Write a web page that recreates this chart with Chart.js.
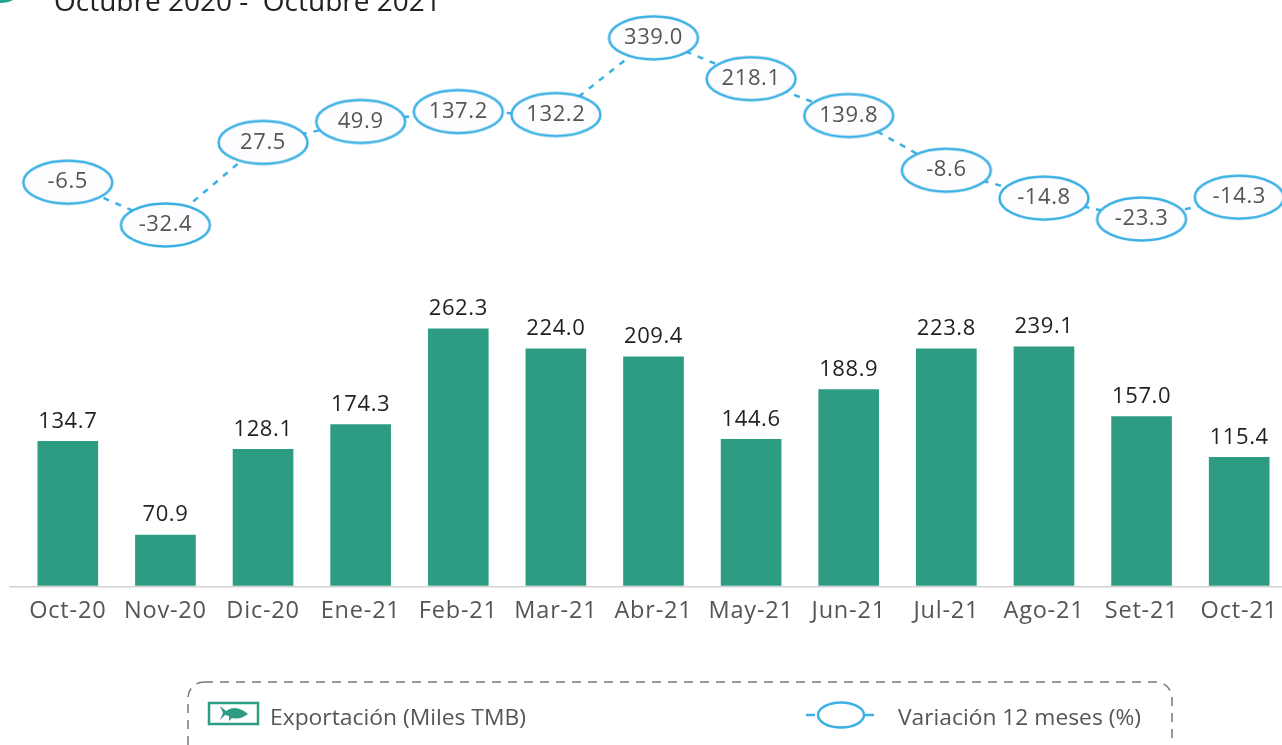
<!DOCTYPE html>
<html lang="es">
<head>
<meta charset="utf-8">
<title>Exportación Octubre 2020 - Octubre 2021</title>
<script src="https://cdn.jsdelivr.net/npm/chart.js@4/dist/chart.umd.js"></script>
<style>
	html, body { margin: 0; padding: 0; background: #fff; overflow: hidden; width: 1282px; height: 745px; }
	#wrap { position: absolute; left: 0; top: 0; width: 1300px; height: 745px; }
	#title { position: absolute; left: 54px; top: -19px; font: 28px "Open Sans", sans-serif; color: #222; white-space: pre; }
	#legend { position: absolute; left: 0; top: 0; width: 1282px; height: 745px; pointer-events: none; }
	#legend text { font-family: "Open Sans", sans-serif; font-size: 22px; fill: #555; }
</style>
</head>
<body>
<div id="wrap"><canvas id="chart" width="1300" height="745"></canvas></div>
<div id="title">Octubre 2020 -  Octubre 2021</div>
<svg id="legend" viewBox="0 0 1282 745">
	<path d="M0 3 Q8 3 13 0 L0 0 Z" fill="#1FA58C"/>
	<rect x="188" y="682" width="984" height="90" rx="16" fill="none" stroke="#777" stroke-width="1.5" stroke-dasharray="9 7"/>
	<rect x="209" y="703" width="49" height="21" fill="none" stroke="#2E9C83" stroke-width="2.5"/>
	<path d="M220 706 L226 711 Q234 705 244 711 L248 714 Q240 720 232 718 L229 721 L229 716 L225 715 L220 720 L223 713 Z" fill="#2E9C83"/>
	<text x="270" y="725" textLength="256" lengthAdjust="spacingAndGlyphs">Exportación (Miles TMB)</text>
	<line x1="806" y1="715" x2="875" y2="715" stroke="#3BB0E3" stroke-width="2.5" stroke-dasharray="9 50"/>
	<ellipse cx="841" cy="715" rx="23" ry="12.5" fill="#fff" stroke="#3BB0E3" stroke-width="2.5"/>
	<text x="898" y="725" textLength="243" lengthAdjust="spacingAndGlyphs">Variación 12 meses (%)</text>
</svg>
<script>
const months = [ 'Oct-20', 'Nov-20', 'Dic-20', 'Ene-21', 'Feb-21', 'Mar-21', 'Abr-21', 'May-21', 'Jun-21', 'Jul-21', 'Ago-21', 'Set-21', 'Oct-21' ];

// Printed values.
const exportLabels = [ '134.7', '70.9', '128.1', '174.3', '262.3', '224.0', '209.4', '144.6', '188.9', '223.8', '239.1', '157.0', '115.4' ];
const variationLabels = [ '-6.5', '-32.4', '27.5', '49.9', '137.2', '132.2', '339.0', '218.1', '139.8', '-8.6', '-14.8', '-23.3', '-14.3' ];

// The original graphic is not drawn to scale, so bars and ovals use the heights
// expressed on the axis of the tallest bar / highest oval.
const exportHeights = [ 147.4, 51.9, 139.3, 164.7, 262.3, 242, 233.8, 149.5, 200.3, 242, 244, 172.8, 131.2 ];
const variationHeights = [ 52.5, -32.4, 131.5, 173, 192.7, 186.8, 339, 258, 184.8, 76.3, 21, -20.6, 22.8 ];

// Oval marker used as point style.
const oval = document.createElement( 'canvas' );
oval.width = 94;
oval.height = 48;
const ovalCtx = oval.getContext( '2d' );
ovalCtx.beginPath();
ovalCtx.ellipse( 47, 24, 44.5, 21.5, 0, 0, Math.PI * 2 );
ovalCtx.fillStyle = '#FDFDFF';
ovalCtx.fill();
ovalCtx.lineWidth = 2.5;
ovalCtx.strokeStyle = '#3BB0E3';
ovalCtx.stroke();

// Baseline and value labels.
const baseline = {
	id: 'baseline',
	beforeDraw( chart ) {
		// Reference lettering is wider than any installed face.
		chart.ctx.letterSpacing = '0.8px';
	},
	beforeDatasetsDraw( chart ) {
		const { ctx, chartArea } = chart;
		ctx.save();
		ctx.strokeStyle = '#D2D2D2';
		ctx.lineWidth = 1.5;
		ctx.beginPath();
		ctx.moveTo( 9, chartArea.bottom + 1 );
		ctx.lineTo( 1282, chartArea.bottom + 1 );
		ctx.stroke();
		ctx.restore();
	},
};

const valueLabels = {
	id: 'valueLabels',
	afterDatasetsDraw( chart ) {
		const { ctx } = chart;
		ctx.save();
		ctx.letterSpacing = '0.6px';
		ctx.textAlign = 'center';
		ctx.textBaseline = 'middle';
		ctx.font = '22px "Open Sans", sans-serif';
		ctx.fillStyle = '#222';
		chart.getDatasetMeta( 0 ).data.forEach( ( bar, i ) => {
			ctx.fillText( exportLabels[ i ], bar.x, bar.y - 20 );
		} );
		ctx.fillStyle = '#555';
		chart.getDatasetMeta( 1 ).data.forEach( ( point, i ) => {
			ctx.fillText( variationLabels[ i ], point.x, point.y );
		} );
		ctx.restore();
	},
};

new Chart( document.getElementById( 'chart' ), {
	data: {
		labels: months,
		datasets: [
			{
				type: 'bar',
				label: 'Exportación (Miles TMB)',
				data: exportHeights,
				backgroundColor: '#2E9C83',
				barThickness: 60,
				yAxisID: 'y',
				order: 1,
			},
			{
				type: 'line',
				label: 'Variación 12 meses (%)',
				data: variationHeights,
				borderColor: '#3BB0E3',
				borderWidth: 2.5,
				borderDash: [ 6, 7 ],
				pointStyle: oval,
				tension: 0,
				yAxisID: 'yLine',
				order: 0,
			},
		],
	},
	options: {
		responsive: false,
		animation: false,
		layout: {
			padding: { left: 19, right: 12, top: 0, bottom: 109 },
		},
		plugins: {
			legend: { display: false },
			title: { display: false },
			tooltip: { enabled: false },
		},
		scales: {
			x: {
				grid: { display: false, drawTicks: false },
				border: { display: false },
				ticks: {
					padding: 11,
					maxRotation: 0,
					autoSkip: false,
					color: '#555',
					font: { family: '"Open Sans", sans-serif', size: 23.5 },
				},
			},
			y: { display: false, min: 0, max: 591.4 },
			yLine: { display: false, min: -748.4, max: 401.2 },
		},
	},
	plugins: [ baseline, valueLabels ],
} );
</script>
</body>
</html>
